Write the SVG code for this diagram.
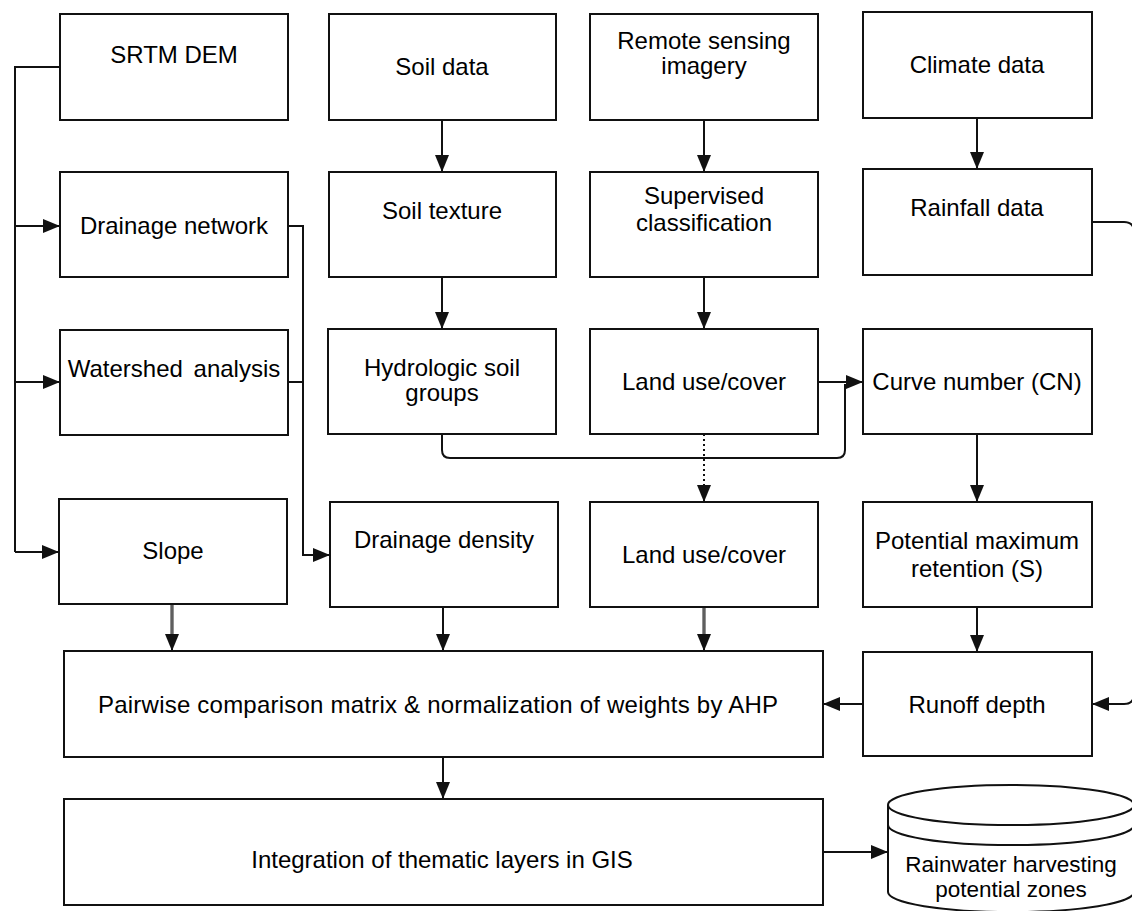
<svg xmlns="http://www.w3.org/2000/svg" width="1132" height="911" viewBox="0 0 1132 911">
<style>
.box{fill:#fff;stroke:#111;stroke-width:2}
.t{font-family:"Liberation Sans",Arial,sans-serif;font-size:24px;fill:#000;text-anchor:middle}
.ts{font-family:"Liberation Sans",Arial,sans-serif;font-size:22.5px;fill:#000;text-anchor:middle}
.c{fill:none;stroke:#111;stroke-width:2}
.dot{fill:none;stroke:#111;stroke-width:2;stroke-dasharray:2 3}
.dbl{fill:none;stroke:#222;stroke-width:3}
.dbli{fill:none;stroke:#aaa;stroke-width:0.9}
</style>
<defs>
<marker id="ah" viewBox="0 0 17 14" refX="17" refY="7" markerWidth="17" markerHeight="14" markerUnits="userSpaceOnUse" orient="auto">
<path d="M0,0 L17,7 L0,14 z" fill="#111"/>
</marker>
</defs>
<rect width="1132" height="911" fill="#fff"/>
<g id="connectors">
<path class="c" d="M60,67 H15 V552"/>
<path class="c" d="M15,226 H60" marker-end="url(#ah)"/>
<path class="c" d="M15,382 H60" marker-end="url(#ah)"/>
<path class="c" d="M15,552 H59" marker-end="url(#ah)"/>
<path class="c" d="M288,226 H303 V555 H330" marker-end="url(#ah)"/>
<path class="c" d="M288,382 H303"/>
<path class="c" d="M442,120 V172" marker-end="url(#ah)"/>
<path class="c" d="M704,120 V172" marker-end="url(#ah)"/>
<path class="c" d="M977,118 V169" marker-end="url(#ah)"/>
<path class="c" d="M442,277 V329" marker-end="url(#ah)"/>
<path class="c" d="M704,277 V329" marker-end="url(#ah)"/>
<path class="c" d="M818,382 H863" marker-end="url(#ah)"/>
<path class="c" d="M442,434 V450 Q442,458 450,458 H837 Q845,458 845,450 V384"/>
<path class="dot" d="M704,434 V486"/>
<path class="c" d="M704,486 V502" marker-end="url(#ah)"/>
<path class="c" d="M977,434 V502" marker-end="url(#ah)"/>
<path class="c" d="M977,607 V652" marker-end="url(#ah)"/>
<path class="c" d="M1092,222 H1124 Q1134,222 1134,232 V694 Q1134,704 1124,704 H1092" marker-end="url(#ah)"/>
<path class="dbl" d="M172,604 V636"/>
<path class="dbli" d="M172,605 V636"/>
<path class="c" d="M172,634 V651" marker-end="url(#ah)"/>
<path class="c" d="M443,607 V651" marker-end="url(#ah)"/>
<path class="dbl" d="M704,607 V636"/>
<path class="dbli" d="M704,608 V636"/>
<path class="c" d="M704,634 V651" marker-end="url(#ah)"/>
<path class="c" d="M863,704 H823" marker-end="url(#ah)"/>
<path class="c" d="M443,757 V799" marker-end="url(#ah)"/>
<path class="c" d="M823,852 H888" marker-end="url(#ah)"/>
</g>
<g id="srtm"><rect class="box" x="60" y="14" width="228" height="106"/><text class="t" x="174" y="63">SRTM DEM</text></g>
<g id="soil-data"><rect class="box" x="329" y="14" width="227" height="106"/><text class="t" x="442" y="75">Soil data</text></g>
<g id="remote"><rect class="box" x="590" y="14" width="228" height="106"/><text class="t" x="704" y="49">Remote sensing</text><text class="t" x="704" y="74">imagery</text></g>
<g id="climate"><rect class="box" x="863" y="12" width="229" height="106"/><text class="t" x="977" y="73">Climate data</text></g>
<g id="drainage-network"><rect class="box" x="60" y="172" width="228" height="105"/><text class="t" x="174" y="234">Drainage network</text></g>
<g id="soil-texture"><rect class="box" x="329" y="172" width="227" height="105"/><text class="t" x="442" y="219">Soil texture</text></g>
<g id="supervised"><rect class="box" x="590" y="172" width="228" height="105"/><text class="t" x="704" y="204">Supervised</text><text class="t" x="704" y="231">classification</text></g>
<g id="rainfall"><rect class="box" x="863" y="169" width="229" height="106"/><text class="t" x="977" y="216">Rainfall data</text></g>
<g id="watershed"><rect class="box" x="60" y="330" width="228" height="105"/><text class="t" x="174" y="377" word-spacing="4">Watershed analysis</text></g>
<g id="hydro"><rect class="box" x="328" y="329" width="228" height="105"/><text class="t" x="442" y="376">Hydrologic soil</text><text class="t" x="442" y="401">groups</text></g>
<g id="landuse1"><rect class="box" x="590" y="329" width="228" height="105"/><text class="t" x="704" y="390">Land use/cover</text></g>
<g id="cn"><rect class="box" x="863" y="329" width="229" height="105"/><text class="t" x="977" y="390">Curve number (CN)</text></g>
<g id="slope"><rect class="box" x="59" y="499" width="228" height="105"/><text class="t" x="173" y="559">Slope</text></g>
<g id="dd"><rect class="box" x="330" y="502" width="228" height="105"/><text class="t" x="444" y="548">Drainage density</text></g>
<g id="landuse2"><rect class="box" x="590" y="502" width="228" height="105"/><text class="t" x="704" y="563">Land use/cover</text></g>
<g id="pmr"><rect class="box" x="863" y="502" width="229" height="105"/><text class="t" x="977" y="549">Potential maximum</text><text class="t" x="977" y="577">retention (S)</text></g>
<g id="ahp"><rect class="box" x="64" y="651" width="759" height="106"/><text class="t" x="438" y="713" textLength="680" lengthAdjust="spacing">Pairwise comparison matrix &amp; normalization of weights by AHP</text></g>
<g id="runoff"><rect class="box" x="863" y="652" width="229" height="104"/><text class="t" x="977" y="713">Runoff depth</text></g>
<g id="integration"><rect class="box" x="64" y="799" width="759" height="106"/><text class="t" x="442" y="868">Integration of thematic layers in GIS</text></g>
<g id="rwh">
<path class="box" d="M888,805 A123,20 0 0 1 1134,805 V892 A123,20 0 0 1 888,892 Z"/>
<path class="c" d="M888,805 A123,20 0 0 0 1134,805"/>
<path class="c" d="M888,825 A123,20 0 0 0 1134,825"/>
<text class="ts" x="1011" y="872">Rainwater harvesting</text>
<text class="ts" x="1011" y="897">potential zones</text>
</g>
</svg>
